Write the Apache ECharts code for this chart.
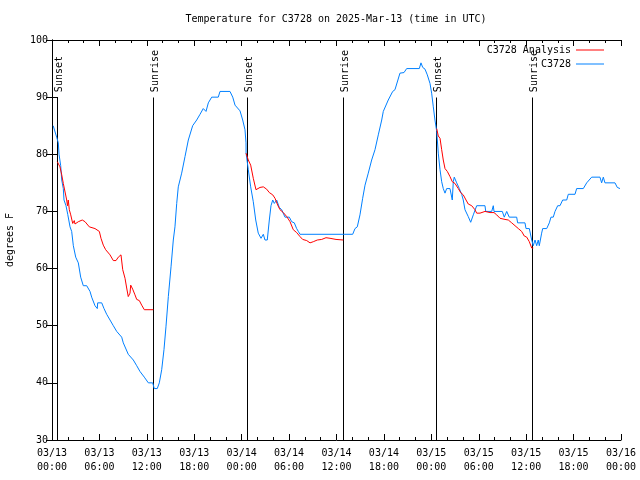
<!DOCTYPE html>
<html>
<head>
<meta charset="utf-8">
<script src="https://cdn.jsdelivr.net/npm/echarts@6/dist/echarts.min.js"></script>
<style>html,body{margin:0;padding:0;background:#fff}#c{width:640px;height:480px}</style>
</head>
<body>
<div id="c"></div>
<script>
// Hours since 2025-03-13 00:00 UTC
const obsHours = [0.15,0.29,0.59,0.80,0.89,1.10,1.23,1.43,1.52,1.77,1.99,2.28,2.49,2.70,3.00,3.33,3.63,3.96,4.39,4.81,5.02,5.44,5.73,5.78,6.29,6.58,6.92,7.34,7.76,8.19,8.82,9.02,9.65,10.29,10.72,11.13,11.68,12.19,12.74,12.94,13.32,13.58,13.88,14.17,14.42,14.72,15.06,15.35,15.56,15.78,15.98,16.41,16.83,17.25,17.80,18.31,18.73,19.14,19.49,19.78,20.21,21.04,21.26,22.52,22.87,23.16,23.79,24.13,24.42,24.55,24.56,24.84,25.14,25.47,25.78,26.10,26.45,26.74,26.95,27.24,27.50,27.71,27.93,28.13,28.43,28.76,29.07,29.48,30.03,30.33,30.66,30.96,31.17,31.38,38.05,38.34,38.63,38.97,39.31,39.61,40.02,40.45,40.87,41.29,41.72,41.92,42.55,43.11,43.40,44.03,44.54,44.88,46.48,46.69,46.91,47.20,47.49,47.83,48.04,48.25,48.46,48.68,48.88,49.10,49.31,49.51,49.73,49.94,50.36,50.65,50.78,50.90,51.21,51.54,51.84,52.04,52.26,52.47,52.67,52.98,53.31,53.74,54.79,54.88,55.64,55.84,55.93,56.98,57.23,57.54,57.74,57.86,58.80,58.92,59.85,59.98,60.40,60.70,60.90,61.12,61.33,61.53,61.66,61.96,62.09,62.60,62.93,63.14,63.43,63.65,63.99,64.28,64.62,65.13,65.33,66.18,66.39,67.23,67.66,67.86,68.29,69.34,69.55,69.76,69.97,71.24,71.53,71.87];
const obsTemps = [85,85,83,82,80,78,75.5,74,72,71,69.5,67.3,66.5,64,62,61,58.5,57,57,56,55,53.5,53,54,54,53,52,51,50,49,48,47,45,44,43,42,41,40,40,39,39,40,42.3,45.8,49.8,55.1,60.3,65,67.3,71.4,74.3,76.7,79.6,82.5,85,86,87,88,87.5,89,90,90,91,91,90,88.6,87.6,86,84.3,82,80.2,77.3,74.3,71.7,68.5,66.2,65.3,66,65,65,68.5,71,72,71.4,72,70.7,70.3,69,69,68.2,68,67,66.5,66,66,67,67.3,69.4,72.3,74.6,76.7,79,80.8,83.4,86,87.5,89.5,91,91.3,94.2,94.3,95,95,96,95.2,94.9,93.9,92.4,90.7,88.3,86,84,80.2,77.3,75.2,74,73.2,74,74,72,75.2,76,75,74,73,72,70.3,70,69.1,68.1,69.4,71,71,70,70,71,70,70,69,70,70,69,69,68,68,67,67,65,64,65,64,65,64,66.2,67,67,68,69,69,70,71,71,72,72,73,73,74,74,75,75,76,76,75,76,75,75,74.2,74];

const anaHours = [0.67,1.01,1.14,1.23,1.43,1.86,1.96,2.06,2.19,2.37,2.62,2.82,2.91,3.33,3.83,4.18,4.72,5.44,5.99,6.20,6.49,6.79,7.34,7.76,8.10,8.39,8.73,8.95,9.24,9.45,9.65,9.87,9.96,10.21,10.50,10.72,11.05,11.35,11.68,12.82,
  12.9,
  24.55,24.84,25.14,25.47,25.81,26.02,26.32,26.74,27.16,27.50,27.93,28.22,28.56,28.85,29.27,29.70,30.12,30.53,30.96,31.38,31.72,32.23,32.65,33.06,33.57,34.13,34.67,35.18,35.94,36.86,
  36.9,
  48.68,48.88,49.10,49.31,49.51,49.73,50.02,50.36,50.65,50.99,51.41,51.71,52.04,52.39,52.67,53.11,53.52,53.74,54.16,54.79,55.42,55.93,56.27,56.69,57.32,57.74,58.17,58.59,59.01,59.43,59.76,60.07,60.40,60.70,60.90];
const anaTemps = [78.7,77.8,78.1,76.4,74.9,72.0,71.0,72.0,70.3,69.4,67.9,68.4,67.8,68.2,68.5,68.2,67.3,67.0,66.5,65.3,64.1,63.3,62.4,61.4,61.4,62.0,62.4,59.8,58.3,56.6,55.1,55.7,57.1,56.4,55.4,54.6,54.4,53.6,52.8,52.8,
  null,
  80.2,79.0,78.1,75.8,73.8,74.0,74.2,74.3,73.9,73.3,72.9,72.3,71.1,70.3,69.8,69.1,68.2,66.8,66.3,65.6,65.1,64.9,64.5,64.7,65.0,65.1,65.4,65.3,65.1,65.0,
  null,
  84.5,83.2,82.8,80.8,79.0,77.5,77.0,76.1,75.2,74.9,74.0,73.3,72.9,72.0,71.3,71.0,70.3,69.7,69.7,70.0,69.8,69.8,69.4,68.8,68.6,68.5,68.0,67.5,67.0,66.5,65.7,65.5,64.7,63.6,63.6];

const sunHours = [0.67, 12.82, 24.62, 36.82, 48.6, 60.75];
const sunLabels = ['Sunset','Sunrise','Sunset','Sunrise','Sunset','Sunrise'];

const xTickLabels = ['03/13\n00:00','03/13\n06:00','03/13\n12:00','03/13\n18:00','03/14\n00:00','03/14\n06:00','03/14\n12:00','03/14\n18:00','03/15\n00:00','03/15\n06:00','03/15\n12:00','03/15\n18:00','03/16\n00:00'];
const yTicks = [30,40,50,60,70,80,90,100];

const FONT = '"DejaVu Sans Mono", monospace';
const chart = echarts.init(document.getElementById('c'), null, {renderer:'canvas'});

const obsData = obsHours.map((h,i)=>[h, obsTemps[i]]);
const anaData = anaHours.map((h,i)=>[h, anaTemps[i] === null ? '-' : anaTemps[i]]);

const xBase = {
  type:'value', min:0, max:72, interval:6,
  axisLine:{show:true, lineStyle:{color:'#000', width:1}},
  axisTick:{show:true, inside:true, length:6, lineStyle:{color:'#000'}},
  minorTick:{show:true, splitNumber:3, length:3, lineStyle:{color:'#000'}},
  splitLine:{show:false}, minorSplitLine:{show:false}
};
const yBase = {
  type:'value', min:30, max:100, interval:10,
  axisLine:{show:true, lineStyle:{color:'#000', width:1}},
  axisTick:{show:true, inside:true, length:6, lineStyle:{color:'#000'}},
  splitLine:{show:false}
};

chart.setOption({
  backgroundColor:'#fff',
  animation:false,
  grid:{left:52, top:40, right:19, bottom:40, containLabel:false, outerBoundsMode:'none'},
  graphic:[{type:'text', x:336, y:19,
    style:{text:'Temperature for C3728 on 2025-Mar-13 (time in UTC)', font:'10px '+FONT, fill:'#000', textAlign:'center', textVerticalAlign:'middle', align:'center', verticalAlign:'middle'}}],
  legend:{
    data:[{name:'C3728 Analysis', icon:'rect'},{name:'C3728', icon:'rect'}], orient:'vertical', right:31, top:39, align:'right',
    itemWidth:28, itemHeight:1, itemGap:2,
    textStyle:{fontFamily:FONT, fontSize:10, color:'#000', lineHeight:12}
  },
  xAxis:[
    Object.assign({}, xBase, {position:'bottom',
      axisLabel:{show:true, margin:6, color:'#000', fontFamily:FONT, fontSize:10, lineHeight:14,
        formatter:(v)=> xTickLabels[Math.round(v/6)] || ''}}),
    Object.assign({}, xBase, {position:'top', axisLabel:{show:false}})
  ],
  yAxis:[
    Object.assign({}, yBase, {position:'left', name:'degrees F', nameLocation:'middle', nameGap:37, nameRotate:90,
      nameTextStyle:{fontFamily:FONT, fontSize:10, color:'#000'},
      axisLabel:{show:true, margin:4, color:'#000', fontFamily:FONT, fontSize:10,
        formatter:(v)=> yTicks.indexOf(v) >= 0 ? String(v) : ''}}),
    Object.assign({}, yBase, {position:'right', axisLabel:{show:false}})
  ],
  series:[
    {type:'custom', name:'sun', xAxisIndex:0, yAxisIndex:0, z:1, silent:true,
      data: sunHours.map((h,i)=>[h,i]),
      renderItem:(params, api)=>{
        const h = api.value(0);
        const lbl = sunLabels[api.value(1)];
        const top = api.coord([h, 90]);
        const bot = api.coord([h, 30]);
        const x = Math.round(top[0]) + 0.5;
        return {type:'group', children:[
          {type:'line', shape:{x1:x, y1:Math.round(top[1])+0.5, x2:x, y2:bot[1]}, style:{stroke:'#000', lineWidth:1}},
          {type:'text', x:x+1.5, y:top[1]-5, rotation:Math.PI/2,
            style:{text:lbl, font:'10px '+FONT, fill:'#000', textAlign:'left', textVerticalAlign:'middle', align:'left', verticalAlign:'middle'}}
        ]};
      }
    },
    {type:'line', name:'C3728 Analysis', data:anaData, symbol:'none', showSymbol:false, connectNulls:false, z:3,
      lineStyle:{color:'#ff0000', width:1}, itemStyle:{color:'#ff0000'}},
    {type:'line', name:'C3728', data:obsData, symbol:'none', showSymbol:false, z:2,
      lineStyle:{color:'#0080ff', width:1}, itemStyle:{color:'#0080ff'}}
  ]
});
</script>
</body>
</html>
